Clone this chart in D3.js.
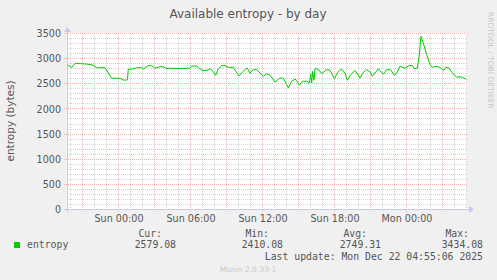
<!DOCTYPE html>
<html>
<head>
<meta charset="utf-8">
<script src="https://d3js.org/d3.v7.min.js"></script>
<style>
  body { margin: 0; background: #f0f0f0; }
  svg { display: block; }
  .tick text { font-family: "DejaVu Sans", sans-serif; font-size: 9.6px; fill: #555; }
  .mono { font-family: "DejaVu Sans Mono", monospace; font-size: 9.8px; fill: #555; }
</style>
</head>
<body>
<div id="chart"></div>
<script>

// hours after Sun Dec 21 2025 00:00, and entropy read at that time
var hours = [-4.2, -3.86, -3.58, -2.5, -2.08, -1.78, -1.08, -0.53, 0.17, 0.42, 0.72, 0.79, 0.86,
  1.25, 1.56, 1.97, 2.11, 2.5, 2.81, 3.08, 3.5, 3.75, 4.06, 4.33, 5.17, 6.0, 6.14, 6.56, 6.83,
  7.08, 7.5, 7.67, 7.92, 8.14, 8.36, 8.64, 8.92, 9.19, 9.61, 9.83, 10.08, 10.36, 10.67, 10.78,
  11.0, 11.22, 11.56, 11.83, 12.11, 12.39, 12.67, 13.08, 13.5, 13.78, 14.06, 14.19, 14.47,
  14.75, 14.89, 15.11, 15.39, 15.72, 15.94, 16.06, 16.14, 16.22, 16.33, 16.42, 16.69, 16.97,
  17.39, 17.67, 18.03, 18.36, 18.64, 18.92, 19.11, 19.39, 19.75, 20.17, 20.44, 20.72, 21.0,
  21.19, 21.42, 21.69, 22.11, 22.39, 22.72, 23.03, 23.22, 23.5, 23.92, 24.28, 24.56, 24.69,
  24.94, 25.11, 25.25, 25.44, 25.72, 26.0, 26.19, 26.42, 26.69, 26.97, 27.17, 27.33, 27.61,
  27.81, 28.22, 28.5, 28.72, 29.0];

var entropy = [2863, 2810, 2897, 2880, 2860, 2810, 2810, 2600, 2600, 2565, 2565, 2570, 2783,
  2783, 2810, 2810, 2780, 2850, 2850, 2800, 2830, 2830, 2790, 2800, 2795, 2800, 2843, 2840, 2790,
  2750, 2763, 2790, 2737, 2657, 2790, 2850, 2850, 2817, 2817, 2737, 2645, 2720, 2790, 2800,
  2700, 2763, 2777, 2704, 2638, 2690, 2660, 2525, 2604, 2600, 2474, 2410, 2540,
  2580, 2560, 2460, 2540, 2540, 2505, 2684, 2505, 2737, 2560, 2790, 2780, 2690,
  2770, 2760, 2594, 2737, 2783, 2704, 2560, 2670, 2757, 2604, 2717, 2770, 2730,
  2638, 2704, 2790, 2684, 2770, 2770, 2657, 2700, 2836, 2800, 2856, 2850, 2790,
  2800, 3069, 3434, 3300, 3070, 2870, 2817, 2836, 2830, 2790, 2757, 2820, 2800,
  2717, 2624, 2630, 2617, 2579];

var yTicks = [0, 500, 1000, 1500, 2000, 2500, 3000, 3500];
var legendHeads = ["Cur:", "Min:", "Avg:", "Max:"];
var legendValues = ["2579.08", "2410.08", "2749.31", "3434.08"];

var width = 497, height = 280;
var base = new Date(2025, 11, 21, 0, 0);
function atHour(h) { return new Date(base.getTime() + h * 3600000); }

var svg = d3.select("#chart").append("svg")
    .attr("width", width)
    .attr("height", height);

var x = d3.scaleTime()
    .domain([atHour(-4.25), atHour(29.083)])
    .range([67, 467]);

var y = d3.scaleLinear()
    .domain([0, 3500])
    .range([209, 33]);

// plot background
svg.append("rect")
    .attr("x", 67).attr("y", 33)
    .attr("width", 400).attr("height", 176)
    .attr("fill", "#ffffff");

// minor grid
var hourTicks = d3.range(-4, 30).map(atHour);
svg.selectAll(".vminor")
    .data(hourTicks.filter(function(d) { return d.getHours() % 3 != 0; }))
    .enter().append("line")
    .attr("x1", function(d) { return Math.round(x(d)) + 0.5; })
    .attr("x2", function(d) { return Math.round(x(d)) + 0.5; })
    .attr("y1", 33).attr("y2", 209)
    .attr("stroke", "#d4d4d4")
    .attr("stroke-dasharray", "1,1");

var minorY = d3.range(100, 3600, 100).filter(function(v) { return v % 500 != 0; });
svg.selectAll(".hminor")
    .data(minorY)
    .enter().append("line")
    .attr("x1", 67).attr("x2", 467)
    .attr("y1", function(d) { return Math.round(y(d)) + 0.5; })
    .attr("y2", function(d) { return Math.round(y(d)) + 0.5; })
    .attr("stroke", "#d4d4d4")
    .attr("stroke-dasharray", "1,1");

// major grid
var majorX = hourTicks.filter(function(d) { return d.getHours() % 3 == 0; });
svg.selectAll(".vmajor")
    .data(majorX)
    .enter().append("line")
    .attr("x1", function(d) { return Math.round(x(d)) + 0.5; })
    .attr("x2", function(d) { return Math.round(x(d)) + 0.5; })
    .attr("y1", 33).attr("y2", 212)
    .attr("stroke", "#f7b4b4")
    .attr("stroke-dasharray", "1,1");

svg.selectAll(".hmajor")
    .data(yTicks.slice(1))
    .enter().append("line")
    .attr("x1", 64).attr("x2", 467)
    .attr("y1", function(d) { return Math.round(y(d)) + 0.5; })
    .attr("y2", function(d) { return Math.round(y(d)) + 0.5; })
    .attr("stroke", "#f7b4b4")
    .attr("stroke-dasharray", "1,1");

// axes (labels only)
var yAxis = d3.axisLeft(y).tickValues(yTicks).tickSize(0).tickPadding(6)
    .tickFormat(d3.format("d"));
svg.append("g").attr("transform", "translate(67,0.5)").call(yAxis)
    .call(function(g) { g.select(".domain").remove(); });

var labelTimes = [0, 6, 12, 18, 24].map(atHour);
var xAxis = d3.axisBottom(x).tickValues(labelTimes).tickSize(0).tickPadding(6)
    .tickFormat(d3.timeFormat("%a %H:%M"));
svg.append("g").attr("transform", "translate(0.5,209)").call(xAxis)
    .call(function(g) { g.select(".domain").remove(); });

// axis lines with arrows
svg.append("line")
    .attr("x1", 64).attr("x2", 470)
    .attr("y1", 209.5).attr("y2", 209.5)
    .attr("stroke", "#c8c8f0");
svg.append("line")
    .attr("x1", 67.5).attr("x2", 67.5)
    .attr("y1", 212).attr("y2", 30)
    .attr("stroke", "#c8c8f0");
svg.append("path")
    .attr("d", "M469,206 L474,209.5 L469,213 Z")
    .attr("fill", "#c8c8f0");
svg.append("path")
    .attr("d", "M64,32 L67.5,27 L71,32 Z")
    .attr("fill", "#c8c8f0");

// data line
var line = d3.line()
    .x(function(d) { return x(atHour(d[0])); })
    .y(function(d) { return y(d[1]); });

svg.append("path")
    .datum(d3.zip(hours, entropy))
    .attr("d", line)
    .attr("fill", "none")
    .attr("stroke", "#00cc00")
    .attr("stroke-width", 1);

// title and labels
svg.append("text")
    .attr("x", 248).attr("y", 18)
    .attr("text-anchor", "middle")
    .attr("font-family", "DejaVu Sans, sans-serif")
    .attr("font-size", 12)
    .attr("fill", "#555")
    .text("Available entropy - by day");

svg.append("text")
    .attr("transform", "translate(14,121) rotate(-90)")
    .attr("text-anchor", "middle")
    .attr("font-family", "DejaVu Sans, sans-serif")
    .attr("font-size", 10.5)
    .attr("fill", "#555")
    .text("entropy (bytes)");

svg.append("text")
    .attr("transform", "translate(488,12) rotate(90)")
    .attr("font-family", "DejaVu Sans, sans-serif")
    .attr("font-size", 7.5)
    .attr("fill", "#c8c8c8")
    .text("RRDTOOL / TOBI OETIKER");

// legend
svg.append("rect")
    .attr("x", 14).attr("y", 242)
    .attr("width", 6).attr("height", 6)
    .attr("fill", "#00cc00");

svg.append("text").attr("class", "mono")
    .attr("x", 27).attr("y", 248)
    .text("entropy");

var colRight = [176, 283, 381, 483];
svg.selectAll(".lhead")
    .data(legendHeads)
    .enter().append("text").attr("class", "mono")
    .attr("x", function(d, i) { return colRight[i] - 14; })
    .attr("y", 237)
    .attr("text-anchor", "end")
    .text(function(d) { return d; });

svg.selectAll(".lval")
    .data(legendValues)
    .enter().append("text").attr("class", "mono")
    .attr("x", function(d, i) { return colRight[i]; })
    .attr("y", 248)
    .attr("text-anchor", "end")
    .text(function(d) { return d; });

svg.append("text").attr("class", "mono")
    .attr("x", 483).attr("y", 260)
    .attr("text-anchor", "end")
    .text("Last update: Mon Dec 22 04:55:06 2025");

svg.append("text")
    .attr("x", 248).attr("y", 272)
    .attr("text-anchor", "middle")
    .attr("font-family", "DejaVu Sans, sans-serif")
    .attr("font-size", 7.5)
    .attr("fill", "#c8c8c8")
    .text("Munin 2.0.33-1");

</script>
</body>
</html>
